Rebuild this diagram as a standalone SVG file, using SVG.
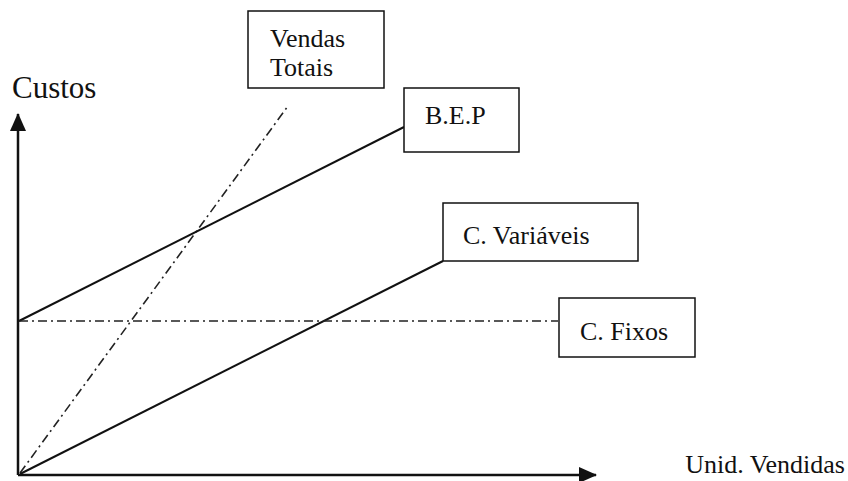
<svg xmlns="http://www.w3.org/2000/svg" width="848" height="481" viewBox="0 0 848 481">
  <style>
    .lbl { font-family: "Liberation Serif", "Times New Roman", serif; font-size: 26px; fill: #111; }
    .big { font-size: 31px; }
    .box { fill: #fff; stroke: #111; stroke-width: 1.5; }
    .solid { stroke: #111; stroke-width: 2; fill: none; }
    .dashdot { stroke: #222; stroke-width: 1.6; fill: none; stroke-dasharray: 9 4 2 4; }
    .axis { stroke: #111; stroke-width: 2.5; fill: none; }
  </style>
  <defs>
    <marker id="arrow" viewBox="0 0 18 16" refX="17" refY="8" markerWidth="18" markerHeight="16" markerUnits="userSpaceOnUse" orient="auto">
      <path d="M0,0 L18,8 L0,16 Z" fill="#111"/>
    </marker>
  </defs>
  <rect width="848" height="481" fill="#fff"/>

  <g id="connectors">
    <!-- axes -->
    <line id="axis-y" class="axis" x1="18" y1="475" x2="18" y2="114" marker-end="url(#arrow)"/>
    <line id="axis-x" class="axis" x1="18" y1="475" x2="596" y2="475" marker-end="url(#arrow)"/>
    <!-- sales line -->
    <line class="dashdot" x1="20" y1="473" x2="288" y2="106"/>
    <!-- break-even line -->
    <line class="solid" x1="19" y1="321" x2="404" y2="127"/>
    <!-- variable costs -->
    <line class="solid" x1="20" y1="474" x2="443" y2="261"/>
    <!-- fixed costs -->
    <line class="dashdot" x1="19" y1="321" x2="558" y2="321"/>
  </g>

  <g id="label-custos">
    <text class="lbl big" x="12" y="98">Custos</text>
  </g>
  <g id="label-unid">
    <text class="lbl" x="845" y="473" text-anchor="end">Unid. Vendidas</text>
  </g>

  <g id="node-vendas">
    <rect class="box" x="248" y="11" width="136" height="77"/>
    <text class="lbl" x="270" y="47">Vendas</text>
    <text class="lbl" x="270" y="76">Totais</text>
  </g>
  <g id="node-bep">
    <rect class="box" x="404" y="88" width="115" height="64"/>
    <text class="lbl" x="425" y="124">B.E.P</text>
  </g>
  <g id="node-variaveis">
    <rect class="box" x="443" y="203" width="195" height="58"/>
    <text class="lbl" x="463" y="244">C. Variáveis</text>
  </g>
  <g id="node-fixos">
    <rect class="box" x="559" y="298" width="136" height="59"/>
    <text class="lbl" x="580" y="340">C. Fixos</text>
  </g>
</svg>
